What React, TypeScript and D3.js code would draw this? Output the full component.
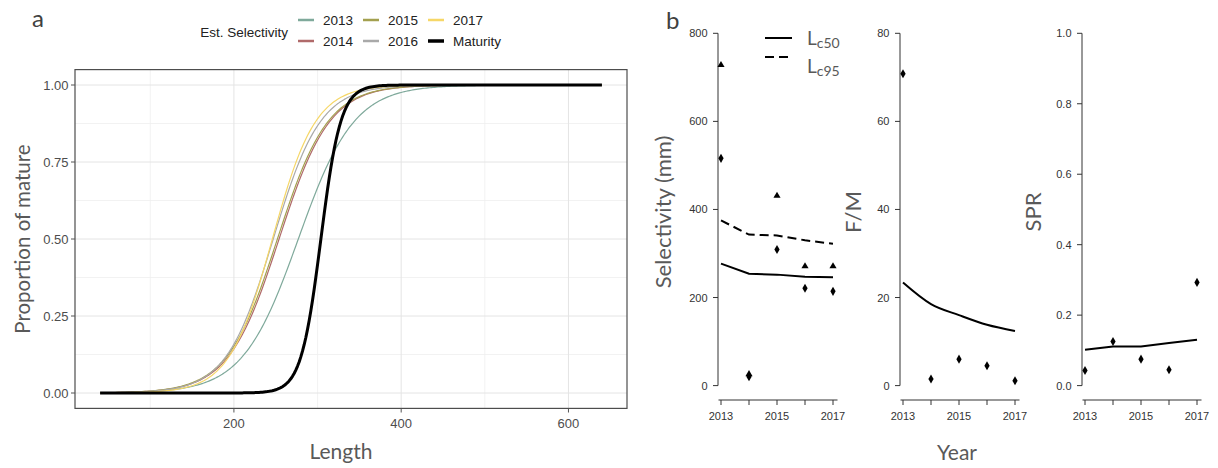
import * as d3 from "d3";

/* ------------------------------------------------------------------ */
/*  Data                                        */
/* ------------------------------------------------------------------ */

const years = [2013, 2014, 2015, 2016, 2017];
const yearColors = ["#7fa99b", "#b06a6a", "#a3a04f", "#a9a9a9", "#f6d767"];

// estimated selectivity: lengths at 50% / 95% retention (mm)
const lc50 = [277, 254, 252, 247, 246];
const lc95 = [375, 343, 341, 330, 322];
// per-year point estimates shown as symbols in panel b
const lc50Pts = [516, 20, 309, 221, 214];
const lc95Pts = [728, 26, 431, 271, 271];

// maturity ogive
const matL50 = 304;
const matL95 = 339;

const fmLine = [23.4, 18.5, 16.0, 13.8, 12.4];
const fmPts = [70.8, 1.5, 6.0, 4.5, 1.1];
const sprLine = [0.102, 0.111, 0.111, 0.121, 0.13];
const sprPts = [0.043, 0.125, 0.075, 0.045, 0.293];

const lengthTicks = [200, 400, 600];
const lengthMinor = [100, 300, 500];
const propTicks = [0, 0.25, 0.5, 0.75, 1];
const propMinor = [0.125, 0.375, 0.625, 0.875];

/* ------------------------------------------------------------------ */
/*  Helpers                                                           */
/* ------------------------------------------------------------------ */

const SANS = "'Liberation Sans', Arial, sans-serif";
const TITLE = "Lato, 'Open Sans', sans-serif";
const TITLE_COL = "#595959";

// logistic curve through L50 / L95
function logistic(L: number, l50: number, l95: number) {
  return 1 / (1 + Math.exp((-Math.log(19) * (L - l50)) / (l95 - l50)));
}

const lengthGrid = d3.range(40, 640.1, 2);

/* ------------------------------------------------------------------ */
/*  Panel a                                                           */
/* ------------------------------------------------------------------ */

function PanelA() {
  const x = d3.scaleLinear().domain([10, 670]).range([75, 627]);
  const y = d3.scaleLinear().domain([-0.05, 1.05]).range([408.4, 69.6]);
  const line = d3
    .line<number[]>()
    .x((d) => x(d[0]))
    .y((d) => y(d[1]));

  const curves = years.map((yr, i) => ({
    key: String(yr),
    color: yearColors[i],
    width: 1.2,
    pts: lengthGrid.map((L) => [L, logistic(L, lc50[i], lc95[i])]),
  }));
  curves.push({
    key: "Maturity",
    color: "#000",
    width: 3,
    pts: lengthGrid.map((L) => [L, logistic(L, matL50, matL95)]),
  });

  // legend: 3 columns x 2 rows, filled by column
  const legendItems = [...years.map(String), "Maturity"];
  const legendColors = [...yearColors, "#000"];
  const colX = [298, 363, 428];
  const rowY = [20, 41];

  return (
    <g>
      <text x={32} y={27} fontFamily={TITLE} fontSize={24} fill="#404040">
        a
      </text>

      {/* legend */}
      <text x={288} y={32} textAnchor="end" dominantBaseline="central" fontFamily={SANS} fontSize={13.5} fill="#222">
        Est. Selectivity
      </text>
      {legendItems.map((lab, i) => {
        const cx = colX[Math.floor(i / 2)];
        const cy = rowY[i % 2];
        return (
          <g key={lab}>
            <line x1={cx} x2={cx + 16} y1={cy} y2={cy} stroke={legendColors[i]} strokeWidth={lab === "Maturity" ? 3.5 : 2.5} />
            <text x={cx + 25} y={cy} dominantBaseline="central" fontFamily={SANS} fontSize={13.5} fill="#222">
              {lab}
            </text>
          </g>
        );
      })}

      {/* grid */}
      {lengthMinor.map((v) => (
        <line key={"xm" + v} x1={x(v)} x2={x(v)} y1={69.6} y2={408.4} stroke="#efefef" strokeWidth={0.8} />
      ))}
      {propMinor.map((v) => (
        <line key={"ym" + v} x1={75} x2={627} y1={y(v)} y2={y(v)} stroke="#efefef" strokeWidth={0.8} />
      ))}
      {lengthTicks.map((v) => (
        <line key={"xg" + v} x1={x(v)} x2={x(v)} y1={69.6} y2={408.4} stroke="#e4e4e4" strokeWidth={1} />
      ))}
      {propTicks.map((v) => (
        <line key={"yg" + v} x1={75} x2={627} y1={y(v)} y2={y(v)} stroke="#e4e4e4" strokeWidth={1} />
      ))}

      {/* curves */}
      {curves.map((c) => (
        <path key={c.key} d={line(c.pts) ?? ""} fill="none" stroke={c.color} strokeWidth={c.width} strokeLinejoin="round" />
      ))}

      <rect x={75} y={69.6} width={552} height={338.8} fill="none" stroke="#4d4d4d" strokeWidth={1.2} />

      {/* axes */}
      {lengthTicks.map((v) => (
        <g key={"xt" + v}>
          <line x1={x(v)} x2={x(v)} y1={408.4} y2={412.5} stroke="#555" />
          <text x={x(v)} y={428} textAnchor="middle" fontFamily={SANS} fontSize={13} fill="#4d4d4d">
            {v}
          </text>
        </g>
      ))}
      {propTicks.map((v) => (
        <g key={"yt" + v}>
          <line x1={71} x2={75} y1={y(v)} y2={y(v)} stroke="#555" />
          <text x={68.5} y={y(v)} textAnchor="end" dominantBaseline="central" fontFamily={SANS} fontSize={13} fill="#4d4d4d">
            {d3.format(".2f")(v)}
          </text>
        </g>
      ))}

      <text x={341} y={459} textAnchor="middle" fontFamily={TITLE} fontSize={21} fill={TITLE_COL}>
        Length
      </text>
      <text
        transform={`translate(22,${y(0.5)}) rotate(-90)`}
        textAnchor="middle"
        dominantBaseline="central"
        fontFamily={TITLE}
        fontSize={20.5}
        fill={TITLE_COL}
      >
        Proportion of mature
      </text>
    </g>
  );
}

/* ------------------------------------------------------------------ */
/*  Panel b                                                           */
/* ------------------------------------------------------------------ */

interface SubProps {
  offset: number;
  title: string;
  titleX: number;
  domain: [number, number];
  ticks: number[];
  fmt: (v: number) => string;
  lines: { values: number[]; dash?: string; curve: d3.CurveFactory }[];
  points: { values: number[]; shape: d3.SymbolType; size: number }[];
}

function SubPlot({ offset, title, titleX, domain, ticks, fmt, lines, points }: SubProps) {
  const x = d3.scaleLinear().domain([2013, 2017]).range([721 + offset, 833 + offset]);
  const y = d3.scaleLinear().domain(domain).range([385.6, 33.3]);
  const axX = x(2013) - 3;
  const axY = 400;

  return (
    <g>
      {/* y axis */}
      <line x1={axX} x2={axX} y1={y(domain[0])} y2={y(domain[1])} stroke="#333" strokeWidth={1} />
      {ticks.map((t) => (
        <g key={t}>
          <line x1={axX - 5} x2={axX} y1={y(t)} y2={y(t)} stroke="#333" />
          <text x={axX - 10.5} y={y(t)} textAnchor="end" dominantBaseline="central" fontFamily={SANS} fontSize={11} fill="#333">
            {fmt(t)}
          </text>
        </g>
      ))}

      {/* x axis */}
      <line x1={x(2013) - 2.5} x2={x(2017) + 4.5} y1={axY} y2={axY} stroke="#333" />
      {years.map((yr) => (
        <line key={yr} x1={x(yr)} x2={x(yr)} y1={axY} y2={axY + 5} stroke="#333" />
      ))}
      {years
        .filter((yr) => yr % 2 === 1)
        .map((yr) => (
          <text key={yr} x={x(yr)} y={420} textAnchor="middle" fontFamily={SANS} fontSize={11} fill="#333">
            {yr}
          </text>
        ))}

      {lines.map((l, i) => {
        const path = d3
          .line<number>()
          .x((_, j) => x(years[j]))
          .y((d) => y(d))
          .curve(l.curve);
        return <path key={i} d={path(l.values) ?? ""} fill="none" stroke="#000" strokeWidth={2} strokeDasharray={l.dash} />;
      })}

      {points.map((p, i) =>
        p.values.map((v, j) => (
          <path
            key={i + "-" + j}
            transform={`translate(${x(years[j])},${y(v)})`}
            d={d3.symbol(p.shape, p.size)() ?? ""}
            fill="#000"
          />
        )),
      )}

      <text
        transform={`translate(${titleX},212) rotate(-90)`}
        textAnchor="middle"
        dominantBaseline="central"
        fontFamily={TITLE}
        fontSize={22}
        fill={TITLE_COL}
      >
        {title}
      </text>
    </g>
  );
}

function PanelB() {
  const diamond = { shape: d3.symbolDiamond, size: 24 };
  const triangle = { shape: d3.symbolTriangle, size: 22 };
  return (
    <g>
      <text x={666} y={29} fontFamily={TITLE} fontSize={24} fill="#404040">
        b
      </text>

      <SubPlot
        offset={0}
        title="Selectivity (mm)"
        titleX={662}
        domain={[0, 800]}
        ticks={[0, 200, 400, 600, 800]}
        fmt={(v) => String(v)}
        lines={[
          { values: lc50, curve: d3.curveLinear },
          { values: lc95, curve: d3.curveLinear, dash: "9 5" },
        ]}
        points={[
          { values: lc95Pts, ...triangle },
          { values: lc50Pts, ...diamond },
        ]}
      />
      <SubPlot
        offset={182}
        title="F/M"
        titleX={852}
        domain={[0, 80]}
        ticks={[0, 20, 40, 60, 80]}
        fmt={(v) => String(v)}
        lines={[{ values: fmLine, curve: d3.curveMonotoneX }]}
        points={[{ values: fmPts, ...diamond }]}
      />
      <SubPlot
        offset={364}
        title="SPR"
        titleX={1032}
        domain={[0, 1]}
        ticks={[0, 0.2, 0.4, 0.6, 0.8, 1]}
        fmt={d3.format(".1f")}
        lines={[{ values: sprLine, curve: d3.curveLinear }]}
        points={[{ values: sprPts, ...diamond }]}
      />

      {/* Lc legend */}
      <line x1={765} x2={792} y1={38} y2={38} stroke="#000" strokeWidth={2} />
      <line x1={765} x2={792} y1={57} y2={57} stroke="#000" strokeWidth={2} strokeDasharray="9 5" />
      <text x={807} y={45} fontFamily={TITLE} fontSize={19} fill={TITLE_COL}>
        L<tspan fontSize={14} dy={3}>c50</tspan>
      </text>
      <text x={807} y={73} fontFamily={TITLE} fontSize={19} fill={TITLE_COL}>
        L<tspan fontSize={14} dy={3}>c95</tspan>
      </text>

      <text x={957} y={460} textAnchor="middle" fontFamily={TITLE} fontSize={21} fill={TITLE_COL}>
        Year
      </text>
    </g>
  );
}

export default function App() {
  return (
    <svg
      width={1218}
      height={468}
      viewBox="0 0 1218 468"
      style={{ position: "absolute", left: 0, top: 0, background: "#fff" }}
    >
      <PanelA />
      <PanelB />
    </svg>
  );
}
